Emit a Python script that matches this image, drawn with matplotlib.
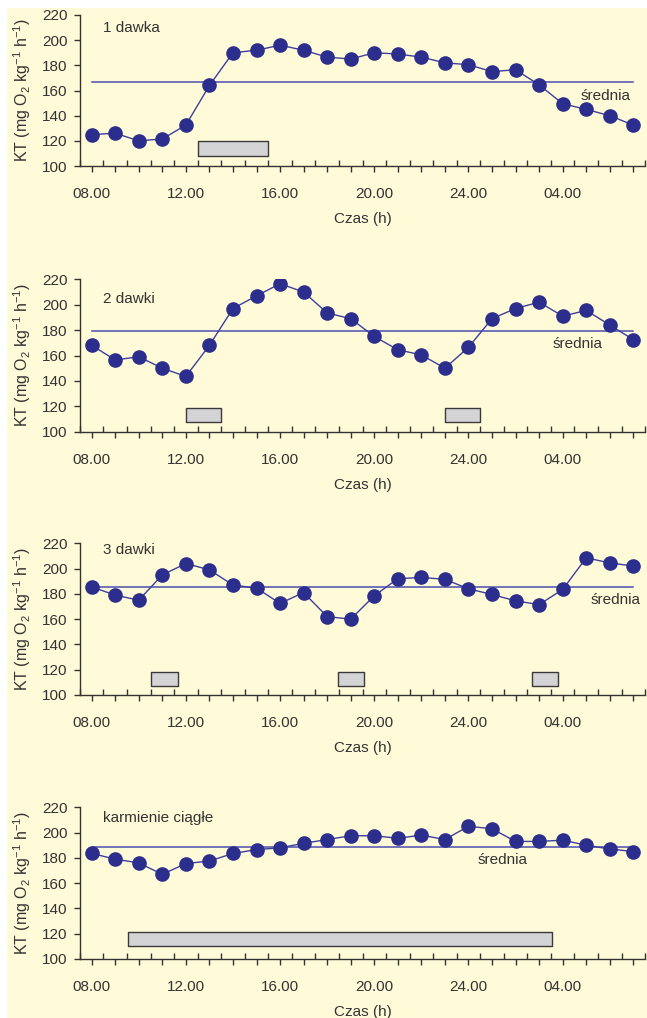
import matplotlib
matplotlib.use("Agg")
import matplotlib.pyplot as plt
from matplotlib.patches import Rectangle
from matplotlib.ticker import FixedLocator, FixedFormatter

plt.rcParams['font.family'] = ['Liberation Sans', 'DejaVu Sans']
plt.rcParams['mathtext.default'] = 'regular'

# ---- data ----
hours = ['08', '09', '10', '11', '12', '13', '14', '15', '16', '17', '18', '19',
         '20', '21', '22', '23', '24', '01', '02', '03', '04', '05', '06', '07']
tick_labels = ['08.00', '12.00', '16.00', '20.00', '24.00', '04.00']
tick_idx = [0, 4, 8, 12, 16, 20]

titles = ['1 dawka', '2 dawki', '3 dawki', 'karmienie ciągłe']

kt_1 = [125, 126, 120, 121.5, 132.5, 164, 190, 192, 196, 192, 186.5, 185,
        190, 189, 186.5, 182, 180.5, 175, 176.5, 164.5, 149.5, 145, 140, 132.5]
kt_2 = [168, 156.5, 159, 150, 143.5, 168, 197, 207, 216.5, 210, 193.5, 189,
        175, 164.5, 160.5, 150, 166.5, 189, 197, 202, 191, 195.5, 184, 172.5]
kt_3 = [185.5, 179, 175, 195, 204, 199, 187, 184.5, 172.5, 181, 162, 160,
        178.5, 192, 193, 191.5, 184, 179.5, 174.5, 171.5, 183.5, 208.5, 204.5, 202]
kt_4 = [183.5, 179, 176, 167, 175.5, 177.5, 183.5, 186.5, 188, 191.5, 194.5, 197.5,
        197.5, 195.5, 198, 194.5, 205, 203, 193, 193, 194, 190, 187, 185]
series = [kt_1, kt_2, kt_3, kt_4]

means = [166.5, 179.5, 185.5, 188.5]

# feeding periods: (start index in hours, end index in hours)
feed_1 = [(4.5, 7.5)]
feed_2 = [(4.0, 5.5), (15.0, 16.5)]
feed_3 = [(2.5, 3.65), (10.45, 11.55), (18.7, 19.8)]
feed_4 = [(1.55, 19.55)]
feeds = [feed_1, feed_2, feed_3, feed_4]
feed_low = [108, 107.5, 107.5, 110.5]
feed_high = [119.5, 118.5, 118.5, 121.5]

# ---- layout ----
W, H = 647, 1018
fig = plt.figure(figsize=(W / 100, H / 100), dpi=100)
fig.patch.set_facecolor('white')
bg = Rectangle((7 / W, 0), 1 - 7 / W, 1 - 8 / H, transform=fig.transFigure,
               facecolor='#FFFAD8', edgecolor='none', zorder=-10)
fig.patches.append(bg)

panel_px = [(15, 166), (279.3, 431.7), (543.3, 695), (807.3, 959)]
title_y = [210, 204.5, 214.5, 211.5]
srednia_x = [22.9, 21.7, 23.3, 18.5]

navy = '#2B2E8C'
line_col = '#3B3F9E'
mean_col = '#4A4FB0'
dark = '#333333'

x = list(range(len(hours)))
for i in range(4):
    top, bot = panel_px[i]
    ax = fig.add_axes([79.9 / W, 1 - bot / H, 565.2 / W, (bot - top) / H])
    ax.set_facecolor('none')
    ax.set_xlim(-0.5, 23.5)
    ax.set_ylim(100, 220)

    # mean line
    ax.plot([x[0], x[-1]], [means[i], means[i]], color=mean_col, lw=1.1, zorder=2)
    # data
    ax.plot(x, series[i], color=line_col, lw=1.0, marker='o', markersize=9.5,
            markerfacecolor=navy, markeredgecolor=navy, zorder=3)
    # feeding bars
    ax.broken_barh([(s, e - s) for s, e in feeds[i]],
                   (feed_low[i], feed_high[i] - feed_low[i]),
                   facecolors='#D4D4D6', edgecolors='#3A3A3A', linewidth=1.0, zorder=2)

    ax.text(0.48, title_y[i], titles[i], fontsize=11, color=dark,
            ha='left', va='center')
    ax.text(srednia_x[i], means[i] - 10.5, 'średnia', fontsize=11, color=dark,
            ha='right', va='center')

    for s in ['top', 'right']:
        ax.spines[s].set_visible(False)
    for s in ['left', 'bottom']:
        ax.spines[s].set_color(dark)
        ax.spines[s].set_linewidth(1.0)

    ax.set_yticks([100, 120, 140, 160, 180, 200, 220])
    ax.tick_params(axis='y', direction='out', length=4, width=1, color=dark,
                   labelsize=11, labelcolor=dark, pad=5)

    ax.xaxis.set_major_locator(FixedLocator(x))
    ax.xaxis.set_major_formatter(FixedFormatter(
        [tick_labels[tick_idx.index(k)] if k in tick_idx else '' for k in x]))
    ax.xaxis.set_minor_locator(FixedLocator([k + 0.5 for k in range(-1, 24)]))
    ax.tick_params(axis='x', which='major', direction='out', length=4, width=1,
                   color=dark, labelsize=11, labelcolor=dark, pad=11)
    ax.tick_params(axis='x', which='minor', direction='in', length=4, width=1,
                   color=dark)

    ax.set_xlabel('Czas (h)', fontsize=11, color=dark, labelpad=8)
    ax.set_ylabel('KT (mg O$_2$ kg$^{-1}$ h$^{-1}$)', fontsize=11.5, color=dark)
    ax.yaxis.label.set_va('center')
    ax.yaxis.set_label_coords(-0.102, 0.5)

fig.savefig('out.png', dpi=100)
